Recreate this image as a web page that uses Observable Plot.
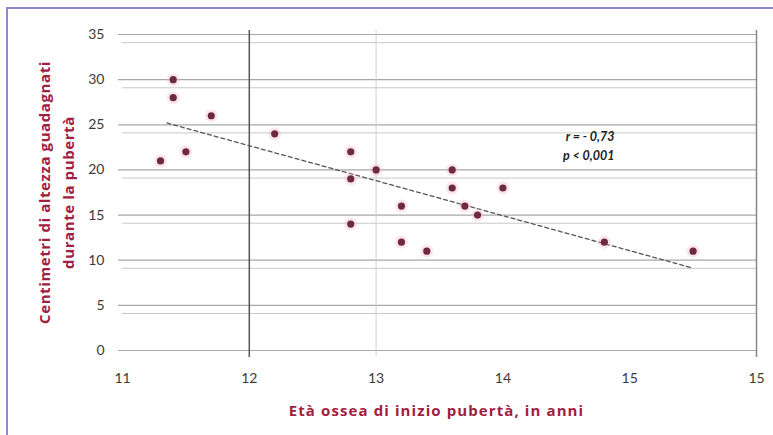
<!DOCTYPE html>
<html>
<head>
<meta charset="utf-8">
<script src="https://cdn.jsdelivr.net/npm/d3@7"></script>
<script src="https://cdn.jsdelivr.net/npm/@observablehq/plot@0.6"></script>
<style>
  html, body { margin: 0; padding: 0; background: #fff; overflow: hidden; }
  #frame { position: absolute; left: 6px; top: 7px; width: 900px; height: 600px;
           border-left: 2px solid #8a8acc; border-top: 2px solid #8a8acc; }
  #chart { position: absolute; left: 0; top: 0; }
  .xtitle text { letter-spacing: 1.1px; }
  .ytitle text { letter-spacing: 0.6px; }
</style>
</head>
<body>
<div id="frame"></div>
<div id="chart"></div>
<script>
// Data
const boneAge = [11.3, 11.4, 11.4, 11.5, 11.7, 12.2, 12.8, 12.8, 12.8, 13.0, 13.2, 13.2, 13.4, 13.6, 13.6, 13.7, 13.8, 14.0, 14.8, 15.5];
const heightGain = [21, 30, 28, 22, 26, 24, 22, 19, 14, 20, 16, 12, 11, 20, 18, 16, 15, 18, 12, 11];
const trendX = [11.35, 15.48];
const trendY = [25.2, 9.2];
const xTicks = [11, 12, 13, 14, 15, 16];
const xTickLabels = ["11", "12", "13", "14", "15", "15"];
const yTicks = [0, 5, 10, 15, 20, 25, 30, 35];
const annotations = ["r = - 0,73", "p < 0,001"];
const annotX = [14.88, 14.88];
const annotY = [23.6, 21.5];
const xTitle = "Età ossea di inizio pubertà, in anni";
const yTitle = ["Centimetri di altezza guadagnati", "durante la pubertà"];

const points = boneAge.map((x, i) => ({x, y: heightGain[i]}));
const trend = trendX.map((x, i) => ({x, y: trendY[i]}));
const notes = annotations.map((t, i) => ({t, x: annotX[i], y: annotY[i]}));
const ghostGrid = yTicks.filter(v => v > 0).map(v => v - 0.9);

const titleColor = "#a0203f";
const titleFont = "'Open Sans', 'DejaVu Sans', sans-serif";

const chart = Plot.plot({
  width: 773,
  height: 435,
  marginLeft: 122,
  marginRight: 17,
  marginTop: 34,
  marginBottom: 85,
  style: {fontFamily: "Lato, 'Open Sans', sans-serif", background: "transparent", overflow: "visible"},
  x: {domain: [11, 16]},
  y: {domain: [0, 35]},
  marks: [
    Plot.ruleY(ghostGrid, {stroke: "#c8c8c8", strokeWidth: 1}),
    Plot.ruleY(yTicks, {stroke: "#a8a8a8", strokeWidth: 1.2, insetLeft: -4}),
    Plot.ruleX([13], {stroke: "#d0d0d0", strokeWidth: 1, insetTop: -4, insetBottom: -6}),
    Plot.ruleX([12], {stroke: "#555", strokeWidth: 1.5, insetTop: -4, insetBottom: -7}),
    Plot.ruleX([16], {stroke: "#888", strokeWidth: 1.5, insetTop: -4, insetBottom: -7}),
    Plot.axisY({ticks: yTicks, tickSize: 0, tickPadding: 18, fontSize: 14, color: "#3a3a3a", label: null}),
    Plot.axisX({ticks: xTicks, tickSize: 0, tickPadding: 23, fontSize: 14, color: "#3a3a3a", label: null,
                tickFormat: d => xTickLabels[xTicks.indexOf(d)]}),
    Plot.line(trend, {x: "x", y: "y", stroke: "#555", strokeWidth: 1.3, strokeDasharray: "4,3"}),
    Plot.dot(points, {x: "x", y: "y", r: 6.5, fill: "#f2b8c8", fillOpacity: 0.35}),
    Plot.dot(points, {x: "x", y: "y", r: 3.6, fill: "#6e2a42"}),
    Plot.text(notes, {x: "x", y: "y", text: "t", textAnchor: "end", fontSize: 12.5, fontWeight: "bold",
                      fontStyle: "italic", fill: "#222"}),
    Plot.text([xTitle], {frameAnchor: "bottom", dy: 61, textAnchor: "middle", lineAnchor: "middle",
                         fontSize: 15, fontWeight: "bold", fontFamily: titleFont, fill: titleColor,
                         className: "xtitle", dx: -3}),
    Plot.text([yTitle.join("\n")], {frameAnchor: "left", dx: -68, rotate: -90, textAnchor: "middle",
                                    lineAnchor: "middle", lineHeight: 1.6, fontSize: 15, fontWeight: "bold",
                                    fontFamily: titleFont, fill: titleColor, className: "ytitle"})
  ]
});
document.getElementById("chart").appendChild(chart);
</script>
</body>
</html>
